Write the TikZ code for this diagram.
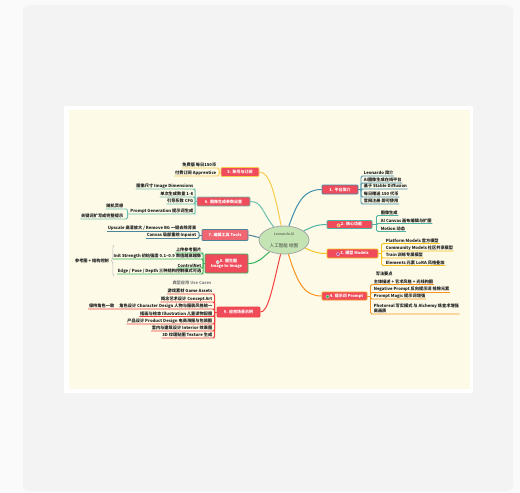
\documentclass[tikz,border=0pt]{standalone}
\usepackage{fontspec}
\setmainfont{Noto Sans CJK SC}
\usetikzlibrary{shapes.geometric,decorations.pathreplacing}

\definecolor{outerbg}{HTML}{FAFAFA}
\definecolor{panelbg}{HTML}{F3F3F3}
\definecolor{paper}{HTML}{FDFBE8}
\definecolor{topicred}{HTML}{EF4B5A}
\definecolor{leafink}{HTML}{1E1E1E}
\definecolor{rootfill}{HTML}{C4E5B3}
\definecolor{cYellow}{HTML}{F7CB4D}
\definecolor{cTeal}{HTML}{6CC0B0}
\definecolor{cSlate}{HTML}{4F8399}
\definecolor{cGreen}{HTML}{36B35A}
\definecolor{cRed}{HTML}{F2403F}
\definecolor{cBlue}{HTML}{3E8EAA}
\definecolor{cAqua}{HTML}{4FB3A3}
\definecolor{cGold}{HTML}{F6C21C}
\definecolor{cOrange}{HTML}{F7931E}

\tikzset{
  root/.style={ellipse, draw=gray!70, line width=0.8pt, fill=rootfill, minimum width=50pt, minimum height=28pt, inner sep=0pt, align=center, text=black!75},
  topic/.style={draw=#1, line width=0.9pt, fill=topicred, text=white, rounded corners=1pt, inner sep=0.5pt, minimum height=9pt, align=center, font=\fontsize{4}{4.6}\selectfont\bfseries},
  leaf/.style={inner xsep=0.6pt, inner ysep=0.7pt, text=leafink, font=\fontsize{4.2}{5}\selectfont\bfseries},
  branch/.style={draw=#1, line width=1pt},
  tie/.style={draw=#1, line width=0.9pt, rounded corners=1.5pt},
  icon/.style={fill=#1, draw=white, line width=0.3pt, minimum size=3pt, inner sep=0pt}
}

\newcommand{\iconbox}[1]{\tikz[baseline=-0.3pt]\node[icon=#1]{};\,}

\begin{document}
\begin{tikzpicture}[x=1pt, y=-1pt]
		\fill[outerbg] (0, 0) rectangle (520, 493);
		\useasboundingbox (0, 0) rectangle (520, 493);
		\fill[panelbg, rounded corners=6pt] (23, 5) rectangle (513, 491);
		\fill[white] (64, 106) rectangle (473, 393);
		\fill[paper] (69, 110) rectangle (470, 389);
		
		\node[root] (root) at (284, 240) {{\fontsize{3.6}{4.4}\selectfont Leonardo.AI}\\[-0.5pt] {\fontsize{4.6}{5.4}\selectfont 人工智能 绘图}};
		
		\node[topic=cYellow, minimum width=38pt] (l1) at (240, 172) {5. 账号与订阅};
		\node[topic=cTeal, minimum width=53pt] (l2) at (223.5, 201.5) {6. 图像生成参数设置};
		\node[topic=cSlate, minimum width=46pt, minimum height=11pt, fill=topicred!85!white] (l3) at (225, 235) {7. 编辑工具 Tools};
		\node[topic=cGreen, minimum width=43pt, minimum height=19pt] (l4) at (226.5, 263.5) {\iconbox{gray!40}8. 图生图\\Image to Image};
		\node[topic=cRed, minimum width=43pt, minimum height=10pt] (l5) at (238.5, 312) {9. 应用场景示例};
		
		\node[topic=cBlue, minimum width=36pt] (r1) at (340, 189.5) {1. 平台简介};
		\node[topic=cAqua, minimum width=45pt, minimum height=8pt] (r2) at (349.5, 224.5) {\iconbox{cOrange}2. 核心功能};
		\node[topic=cGold, minimum width=51pt] (r3) at (352.5, 253.5) {\iconbox{violet!70}3. 模型 Models};
		\node[topic=cOrange, minimum width=45pt, minimum height=8pt] (r4) at (344.5, 296) {\iconbox{cGreen}4. 提示词 Prompt};
		
		\draw[branch=cYellow] (root) .. controls (275, 195) and (270, 172) .. (l1.east);
		\draw[branch=cTeal] (root) .. controls (262, 212) and (262, 201.5) .. (l2.east);
		\draw[branch=cSlate] (root) .. controls (255, 237) and (252, 235) .. (l3.east);
		\draw[branch=cGreen] (root) .. controls (262, 258) and (258, 263.5) .. (l4.east);
		\draw[branch=cRed] (root) .. controls (272, 290) and (268, 312) .. (l5.east);
		\draw[branch=cBlue] (root) .. controls (298, 200) and (305, 189.5) .. (r1.west);
		\draw[branch=cAqua] (root) .. controls (310, 228) and (315, 224.5) .. (r2.west);
		\draw[branch=cGold] (root) .. controls (310, 250) and (315, 253.5) .. (r3.west);
		\draw[branch=cOrange] (root) .. controls (298, 285) and (305, 296) .. (r4.west);
		
		\node[leaf, anchor=south west] (r1a) at (363, 176) {Leonardo 简介};
		\node[leaf, anchor=south west] (r1b) at (363, 183) {AI图像生成在线平台};
		\node[leaf, anchor=south west] (r1c) at (363, 189) {基于 Stable Diffusion};
		\node[leaf, anchor=south west] (r1d) at (363, 197) {每日赠送 150 代币};
		\node[leaf, anchor=south west] (r1e) at (363, 204) {官网注册 即可使用};
		
		\node[leaf, anchor=south west] (r2a) at (380, 215.5) {图像生成};
		\node[leaf, anchor=south west] (r2b) at (380, 223.5) {AI Canvas 画布编辑与扩图};
		\node[leaf, anchor=south west] (r2c) at (380, 231.5) {Motion 动态};
		
		\node[leaf, anchor=south west] (r3a) at (385, 243.5) {Platform Models 官方模型};
		\node[leaf, anchor=south west] (r3b) at (385, 251) {Community Models 社区共享模型};
		\node[leaf, anchor=south west] (r3c) at (385, 258) {Train 训练专属模型};
		\node[leaf, anchor=south west] (r3d) at (385, 265.5) {Elements 元素 LoRA 风格叠加};
		
		\node[leaf, anchor=south west] (r4z) at (375, 277) {写法要点};
		\node[leaf, anchor=south west] (r4a) at (373, 284.5) {主体描述 + 艺术风格 + 光线构图};
		\node[leaf, anchor=south west] (r4b) at (373, 292.5) {Negative Prompt 反向提示词 排除元素};
		\node[leaf, anchor=south west] (r4c) at (373, 299) {Prompt Magic 提示词增强};
		\node[leaf, anchor=south west, align=left] (r4d) at (373, 314) {Photoreal 写实模式 与 Alchemy 炼金术增强\\高画质};
		
		\node[leaf, anchor=south east] (l1a) at (217, 168) {免费版 每日150币};
		\node[leaf, anchor=south east] (l1b) at (217, 176) {付费订阅 Apprentice};
		
		\node[leaf, anchor=south east] (l2a) at (194, 189) {图像尺寸 Image Dimensions};
		\node[leaf, anchor=south east] (l2b) at (194, 197) {单次生成数量 1-8};
		\node[leaf, anchor=south east] (l2c) at (194, 204) {引导系数 CFG};
		\node[leaf, anchor=south east] (l2d) at (194, 214) {Prompt Generation 提示词生成};
		\node[leaf, anchor=south east] (l2e) at (124, 209) {随机灵感};
		\node[leaf, anchor=south east] (l2h) at (124, 219) {关键词扩写成完整提示};
		
		\node[leaf, anchor=south east] (l3a) at (197, 231.5) {Upscale 高清放大 / Remove BG 一键去除背景};
		\node[leaf, anchor=south east] (l3b) at (197, 238.5) {Canvas 局部重绘 Inpaint};
		
		\node[leaf, anchor=south east] (l4a) at (202, 253) {上传参考图片};
		\node[leaf, anchor=south east] (l4b) at (202, 259) {Init Strength 初始强度 0.1–0.9 数值越高越像};
		\node[leaf, anchor=south east] (l4c) at (202, 268) {ControlNet};
		\node[leaf, anchor=south east] (l4d) at (202, 274) {Edge / Pose / Depth 三种结构控制模式可选};
		\node[leaf] (l4s) at (92, 261) {参考图 + 结构控制};
		\coordinate (l4top) at (114, 245);
		\coordinate (l4bot) at (114, 276);
		
		\node[leaf, anchor=south east, text=gray] (l5z) at (212, 286) {典型应用 Use Cases};
		\node[leaf, anchor=south east] (l5a) at (213, 294) {游戏素材 Game Assets};
		\node[leaf, anchor=south east] (l5b) at (213, 302) {概念艺术设计 Concept Art};
		\node[leaf, anchor=south east] (l5c) at (213, 309) {角色设计 Character Design 人物与服装风格统一};
		\node[leaf, anchor=south east] (l5h) at (115, 309) {保持角色一致};
		\node[leaf, anchor=south east] (l5d) at (213, 316.5) {插画与绘本 Illustration 儿童读物配图};
		\node[leaf, anchor=south east] (l5e) at (213, 324) {产品设计 Product Design 电商海报与包装图};
		\node[leaf, anchor=south east] (l5f) at (213, 331) {室内与建筑设计 Interior 效果图};
		\node[leaf, anchor=south east] (l5g) at (213, 338) {3D 纹理贴图 Texture 生成};
		
		\coordinate (r1j) at ([xshift=2.5pt]r1.east);
		\coordinate (r2j) at ([xshift=4pt]r2.east);
		\coordinate (r3j) at ([xshift=3pt]r3.east);
		\coordinate (r4j) at ([xshift=3pt]r4.east);
		\coordinate (l1j) at ([xshift=-1.5pt]l1.west);
		\coordinate (l2j) at ([xshift=-1.5pt]l2.west);
		\coordinate (l3j) at ([xshift=-2.5pt]l3.west);
		\coordinate (l4j) at ([xshift=-1.5pt]l4.west);
		\coordinate (l5j) at ([xshift=-2pt]l5.west);
		\coordinate (l2k) at ([xshift=-2pt]l2d.south west);
		
		\draw[tie=cBlue] (r1.east) -- (r1j);
		\draw[tie=cBlue] (r1j) |- (r1a.south west) -- (r1a.south east);
		\draw[tie=cBlue] (r1j) |- (r1b.south west) -- (r1b.south east);
		\draw[tie=cBlue] (r1j) |- (r1c.south west) -- (r1c.south east);
		\draw[tie=cBlue] (r1j) |- (r1d.south west) -- (r1d.south east);
		\draw[tie=cBlue] (r1j) |- (r1e.south west) -- (r1e.south east);
		
		\draw[tie=cAqua] (r2.east) -- (r2j);
		\draw[tie=cAqua] (r2j) |- (r2a.south west) -- (r2a.south east);
		\draw[tie=cAqua] (r2j) |- (r2b.south west) -- (r2b.south east);
		\draw[tie=cAqua] (r2j) |- (r2c.south west) -- (r2c.south east);
		
		\draw[tie=cGold] (r3.east) -- (r3j);
		\draw[tie=cGold] (r3j) |- (r3a.south west) -- (r3a.south east);
		\draw[tie=cGold] (r3j) |- (r3b.south west) -- (r3b.south east);
		\draw[tie=cGold] (r3j) |- (r3c.south west) -- (r3c.south east);
		\draw[tie=cGold] (r3j) |- (r3d.south west) -- (r3d.south east);
		
		\draw[tie=cOrange] (r4.east) -- (r4j);
		\draw[tie=cOrange] (r4j) |- (r4a.south west) -- (r4a.south east);
		\draw[tie=cOrange] (r4j) |- (r4b.south west) -- (r4b.south east);
		\draw[tie=cOrange] (r4j) |- (r4c.south west) -- (r4c.south east);
		\draw[tie=cOrange] (r4j) |- (r4d.south west) -- (r4d.south east);
		
		\draw[tie=cYellow] (l1.west) -- (l1j);
		\draw[tie=cYellow] (l1j) |- (l1a.south east) -- (l1a.south west);
		\draw[tie=cYellow] (l1j) |- (l1b.south east) -- (l1b.south west);
		
		\draw[tie=cTeal] (l2.west) -- (l2j);
		\draw[tie=cTeal] (l2j) |- (l2a.south east) -- (l2a.south west);
		\draw[tie=cTeal] (l2j) |- (l2b.south east) -- (l2b.south west);
		\draw[tie=cTeal] (l2j) |- (l2c.south east) -- (l2c.south west);
		\draw[tie=cTeal] (l2j) |- (l2d.south east) -- (l2d.south west) -- (l2k);
		\draw[tie=cTeal] (l2k) |- (l2e.south east) -- (l2e.south west);
		\draw[tie=cTeal] (l2k) |- (l2h.south east) -- (l2h.south west);
		
		\draw[tie=cSlate] (l3.west) -- (l3j);
		\draw[tie=cSlate] (l3j) |- (l3a.south east) -- (l3a.south west);
		\draw[tie=cSlate] (l3j) |- (l3b.south east) -- (l3b.south west);
		
		\draw[tie=cGreen] (l4.west) -- (l4j);
		\draw[tie=cGreen] (l4j) |- (l4a.south east) -- (l4a.south west);
		\draw[tie=cGreen] (l4j) |- (l4b.south east) -- (l4b.south west);
		\draw[tie=cGreen] (l4j) |- (l4c.south east) -- (l4c.south west);
		\draw[tie=cGreen] (l4j) |- (l4d.south east) -- (l4d.south west);
		\draw[draw=gray!55, line width=0.5pt, decorate, decoration = {brace, amplitude=2.5pt}] (l4bot) -- (l4top);
		
		\draw[tie=cRed] (l5.west) -- (l5j);
		\draw[tie=cRed] (l5j) |- (l5a.south east) -- (l5a.south west);
		\draw[tie=cRed] (l5j) |- (l5b.south east) -- (l5b.south west);
		\draw[tie=cRed] (l5j) |- (l5c.south east) -- (l5c.south west) -- (l5h.south east) -- (l5h.south west);
		\draw[tie=cRed] (l5j) |- (l5d.south east) -- (l5d.south west);
		\draw[tie=cRed] (l5j) |- (l5e.south east) -- (l5e.south west);
		\draw[tie=cRed] (l5j) |- (l5f.south east) -- (l5f.south west);
		\draw[tie=cRed] (l5j) |- (l5g.south east) -- (l5g.south west);
	\end{tikzpicture}
\end{document}
